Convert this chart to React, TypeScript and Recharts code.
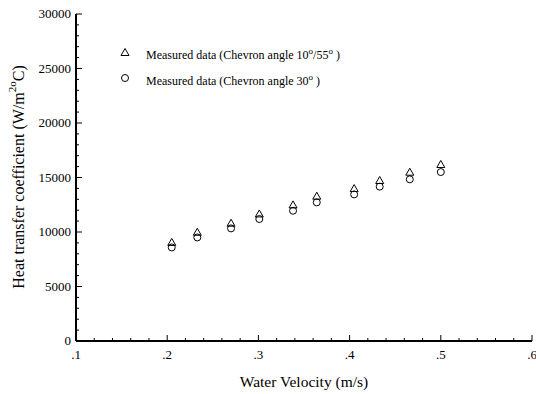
import { ScatterChart, Scatter, XAxis, YAxis } from "recharts"

// water velocity (m/s) for each measured point
const velocity = [0.205, 0.233, 0.27, 0.301, 0.338, 0.364, 0.405, 0.433, 0.466, 0.5]
// heat transfer coefficient (W/m2 oC)
const hChevron1055 = [9000, 9930, 10760, 11610, 12440, 13240, 13940, 14680, 15440, 16150]
const hChevron30 = [8580, 9500, 10330, 11190, 11950, 12720, 13450, 14160, 14830, 15500]

const xMajorTicks = [0.1, 0.2, 0.3, 0.4, 0.5, 0.6]
const xMinorStep = 0.02
const yMajorTicks = [0, 5000, 10000, 15000, 20000, 25000, 30000]
const yMinorStep = 1000

const xTicks = Array.from({ length: Math.round((0.6 - 0.1) / xMinorStep) + 1 }, (_, i) =>
  +(0.1 + i * xMinorStep).toFixed(2)
)
const yTicks = Array.from({ length: 30000 / yMinorStep + 1 }, (_, i) => i * yMinorStep)

const data1055 = velocity.map((v, i) => ({ v, h: hChevron1055[i] }))
const data30 = velocity.map((v, i) => ({ v, h: hChevron30[i] }))

const FONT = "'Liberation Serif', 'Times New Roman', serif"
const txt = { fontFamily: FONT, fill: "#000" }

const isMajorX = (v: number) => xMajorTicks.some((m) => Math.abs(m - v) < 1e-6)
const isMajorY = (v: number) => yMajorTicks.includes(v)
const fmtX = (v: number) => "." + Math.round(v * 10)

function XTick({ x, y, payload, side }: any) {
  const major = isMajorX(payload.value)
  const len = major ? 6 : 3
  const dir = side === "top" ? 1 : -1
  return (
    <g>
      <line x1={x} x2={x} y1={y} y2={y + dir * len} stroke="#000" strokeWidth={1} />
      {major && side !== "top" && (
        <text x={x} y={y + 18} textAnchor="middle" fontSize={13} style={txt}>
          {fmtX(payload.value)}
        </text>
      )}
    </g>
  )
}

function YTick({ x, y, payload, side }: any) {
  const major = isMajorY(payload.value)
  const len = major ? 6 : 3
  const dir = side === "right" ? -1 : 1
  return (
    <g>
      <line x1={x} x2={x + dir * len} y1={y} y2={y} stroke="#000" strokeWidth={1} />
      {major && side !== "right" && (
        <text x={x - 5} y={y + 4} textAnchor="end" fontSize={13} style={txt}>
          {payload.value}
        </text>
      )}
    </g>
  )
}

function Triangle({ cx, cy }: any) {
  return <path d={`M${cx},${cy - 4.5}L${cx + 4},${cy + 2.5}L${cx - 4},${cy + 2.5}Z`} fill="none" stroke="#000" strokeWidth={1} />
}

function Circle({ cx, cy }: any) {
  return <circle cx={cx} cy={cy} r={3.5} fill="none" stroke="#000" strokeWidth={1} />
}

const axisLine = { stroke: "#000", strokeWidth: 2 }

export default function App() {
  return (
    <div style={{ position: "absolute", left: 0, top: 0, width: 536, height: 394, background: "#fff", fontFamily: FONT }}>
      <ScatterChart width={536} height={394} margin={{ top: 14, right: 4, bottom: 0, left: 0 }} style={{ fontFamily: FONT }}>
        <XAxis
          xAxisId="b"
          dataKey="v"
          type="number"
          domain={[0.1, 0.6]}
          ticks={xTicks}
          interval={0}
          height={53}
          tickSize={0}
          tickMargin={0}
          axisLine={axisLine}
          tickLine={false}
          tick={<XTick side="bottom" />}
          label={{
            content: () => (
              <text x={304} y={387} textAnchor="middle" fontSize={15.5} style={txt}>
                Water Velocity (m/s)
              </text>
            ),
          }}
        />
        <XAxis
          xAxisId="t"
          orientation="top"
          dataKey="v"
          type="number"
          domain={[0.1, 0.6]}
          ticks={xTicks}
          interval={0}
          height={0}
          tickSize={0}
          tickMargin={0}
          axisLine={axisLine}
          tickLine={false}
          tick={<XTick side="top" />}
        />
        <YAxis
          yAxisId="l"
          dataKey="h"
          type="number"
          domain={[0, 30000]}
          ticks={yTicks}
          interval={0}
          width={76}
          tickSize={0}
          tickMargin={0}
          axisLine={axisLine}
          tickLine={false}
          tick={<YTick side="left" />}
          label={{
            content: () => (
              <text
                x={20}
                y={177}
                transform="rotate(-90 20 177)"
                textAnchor="middle"
                dominantBaseline="middle"
                fontSize={16}
                style={txt}
              >
                Heat transfer coefficient (W/m
                <tspan fontSize={11} dy={-7}>2o</tspan>
                <tspan dy={7}>C)</tspan>
              </text>
            ),
          }}
        />
        <YAxis
          yAxisId="r"
          orientation="right"
          dataKey="h"
          type="number"
          domain={[0, 30000]}
          ticks={yTicks}
          interval={0}
          width={0}
          tickSize={0}
          tickMargin={0}
          axisLine={axisLine}
          tickLine={false}
          tick={<YTick side="right" />}
        />
        <Scatter xAxisId="b" yAxisId="l" data={data1055} shape={<Triangle />} isAnimationActive={false} />
        <Scatter xAxisId="b" yAxisId="l" data={data30} shape={<Circle />} isAnimationActive={false} />
        <Scatter xAxisId="t" yAxisId="r" data={data30} shape={() => null} isAnimationActive={false} />
      </ScatterChart>
      <div style={{ position: "absolute", left: 118, top: 40, fontSize: 12, color: "#000", lineHeight: "22px" }}>
        <div style={{ display: "flex", alignItems: "center" }}>
          <svg width={14} height={12} style={{ marginRight: 14 }}>
            <path d="M7,1.5L11,8.5L3,8.5Z" fill="none" stroke="#000" />
          </svg>
          <span>
            Measured data (Chevron angle 10<sup style={{ fontSize: 9 }}>o</sup>/55<sup style={{ fontSize: 9 }}>o</sup> )
          </span>
        </div>
        <div style={{ display: "flex", alignItems: "center" }}>
          <svg width={14} height={12} style={{ marginRight: 14 }}>
            <circle cx={7} cy={5} r={3.5} fill="none" stroke="#000" />
          </svg>
          <span>
            Measured data (Chevron angle 30<sup style={{ fontSize: 9 }}>o</sup> )
          </span>
        </div>
      </div>
    </div>
  )
}
